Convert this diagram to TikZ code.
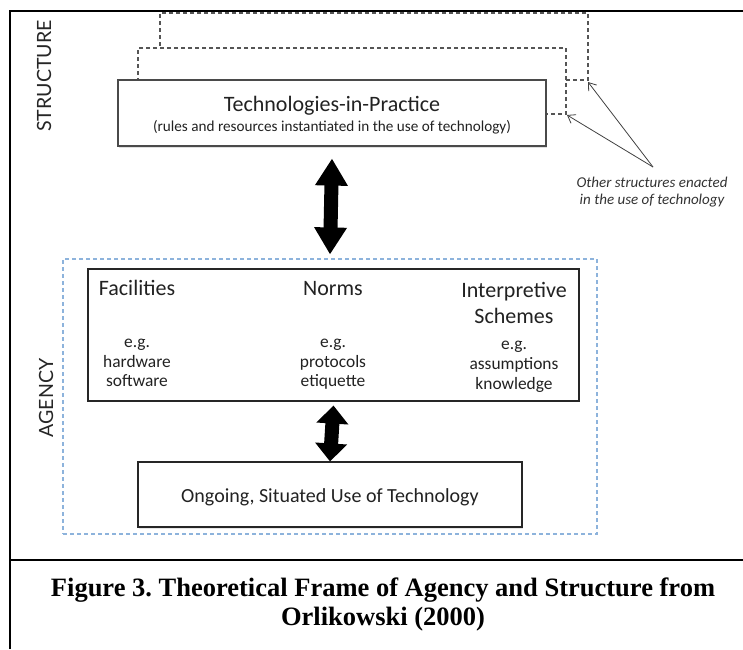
\documentclass[tikz,border=0pt]{standalone}
\usepackage{fontspec}
\setmainfont{Carlito}
\newfontfamily\capfont{Liberation Serif}
\newfontfamily\labfont{Lato}
\usetikzlibrary{arrows.meta,shadows}
\frenchspacing
\definecolor{boxline}{HTML}{4A4A4A}
\definecolor{dashgray}{HTML}{555555}
\definecolor{agblue}{HTML}{8DB3DC}
\definecolor{txt}{HTML}{222222}
\tikzset{
  frameline/.style={line width=2.2pt, black},
  dbox/.style={draw=dashgray, line width=1.1pt, dash pattern=on 4pt off 3pt, fill=white, inner sep=0pt},
  techbox/.style={draw=boxline, line width=1.1pt, fill=white, inner sep=0pt,
     drop shadow={opacity=0.25, shadow xshift=1pt, shadow yshift=-1.5pt}},
  plainbox/.style={draw=black!85, line width=1.1pt, fill=white, inner sep=0pt,
     drop shadow={opacity=0.2, shadow xshift=1pt, shadow yshift=-1.5pt}},
  facbox/.style={draw=black!85, line width=1.1pt, fill=white, inner sep=0pt},
  agbox/.style={draw=agblue, line width=1.1pt, dash pattern=on 4pt off 3pt, inner sep=0pt},
  bigarrow/.style={line width=14pt, {Triangle[length=27pt,width=31pt]}-{Triangle[length=27pt,width=31pt]}},
  smallarrow/.style={line width=14pt, {Triangle[length=18pt,width=31pt]}-{Triangle[length=18pt,width=31pt]}},
  callout/.style={draw=black!75, line width=0.8pt, -{Straight Barb[length=7pt,width=10pt]}},
  fixed/.style={text height=0.66em, text depth=0pt, inner sep=0pt},
  headtext/.style={fixed, text=txt, font=\fontsize{22}{26}\selectfont},
  subtext/.style={fixed, text=txt, font=\fontsize{17.4}{19.5}\selectfont},
  sidelabel/.style={rotate=90, inner sep=0pt, text=black!85, font=\labfont\fontsize{19.6}{22}\selectfont},
  notetext/.style={fixed, text=black!80, font=\itshape\fontsize{15}{17}\selectfont},
  captext/.style={fixed, font=\capfont\bfseries\fontsize{26.5}{29}\selectfont}
}
\begin{document}
\begin{tikzpicture}[x=1pt,y=-1pt]
\useasboundingbox (0,0) rectangle (743,649);
% frame
\coordinate (ftl) at (10,11);
\coordinate (ftr) at (743,11);
\coordinate (fbl) at (10,649);
\coordinate (fml) at (10,560);
\coordinate (fmr) at (743,560);
\draw[frameline] (fbl) -- (ftl) -- (ftr);
\draw[frameline] (fml) -- (fmr);

% side labels
\node[sidelabel] (structure) at (44,76) {STRUCTURE};
\node[sidelabel] (agencylab) at (46,398) {AGENCY};

% stacked structures
\node[dbox, minimum width=428pt, minimum height=67pt] (back) at (374,46.5) {};
\node[dbox, minimum width=428pt, minimum height=66pt] (middle) at (352,81) {};
\node[techbox, minimum width=428pt, minimum height=66pt] (tech) at (332,113) {};
\node[headtext] (techtitle) at (332,108) {Technologies-in-Practice};
\node[fixed, text=txt, font=\fontsize{15.2}{17}\selectfont] (techsub) at (332,128) {(rules and resources instantiated in the use of technology)};

% callout
\coordinate (c1) at (588,82);
\coordinate (c2) at (567,115);
\coordinate (tail) at (653,167);
\draw[callout] (tail) -- (c1);
\draw[callout] (tail) -- (c2);
\node[notetext] (note1) at (652,184) {Other structures enacted};
\node[notetext] (note2) at (652,201) {in the use of technology};

% agency
\node[agbox, minimum width=534pt, minimum height=275pt] (agency) at (330,396.5) {};
\node[facbox, minimum width=491pt, minimum height=132pt] (fac) at (333.5,335) {};
\node[headtext] (facilities) at (137,292) {Facilities};
\node[headtext] (norms) at (333,292) {Norms};
\node[headtext] (interp) at (514,294) {Interpretive};
\node[headtext] (schemes) at (514,320) {Schemes};
\node[subtext] (eg1) at (137,344) {e.g.};
\node[subtext] (hw) at (137,364) {hardware};
\node[subtext] (sw) at (137,383) {software};
\node[subtext] (eg2) at (333,344) {e.g.};
\node[subtext] (prot) at (333,364) {protocols};
\node[subtext] (etiq) at (333,383) {etiquette};
\node[subtext] (eg3) at (514,346) {e.g.};
\node[subtext] (assum) at (514,366) {assumptions};
\node[subtext] (know) at (514,386) {knowledge};

\node[plainbox, minimum width=384pt, minimum height=65pt] (ongoing) at (330,494.5) {};
\node[fixed, text=txt, font=\fontsize{20}{24}\selectfont] (ongoingtxt) at (330,499) {Ongoing, Situated Use of Technology};

% arrows
\draw[bigarrow] ([yshift=-12pt]tech.south) -- ([yshift=4pt]agency.north);
\draw[smallarrow] ([yshift=-4pt]fac.south) -- (ongoing.north);

% caption
\node[captext] (cap1) at (383,593) {Figure 3. Theoretical Frame of Agency and Structure from};
\node[captext] (cap2) at (383,622) {Orlikowski (2000)};
\end{tikzpicture}
\end{document}
